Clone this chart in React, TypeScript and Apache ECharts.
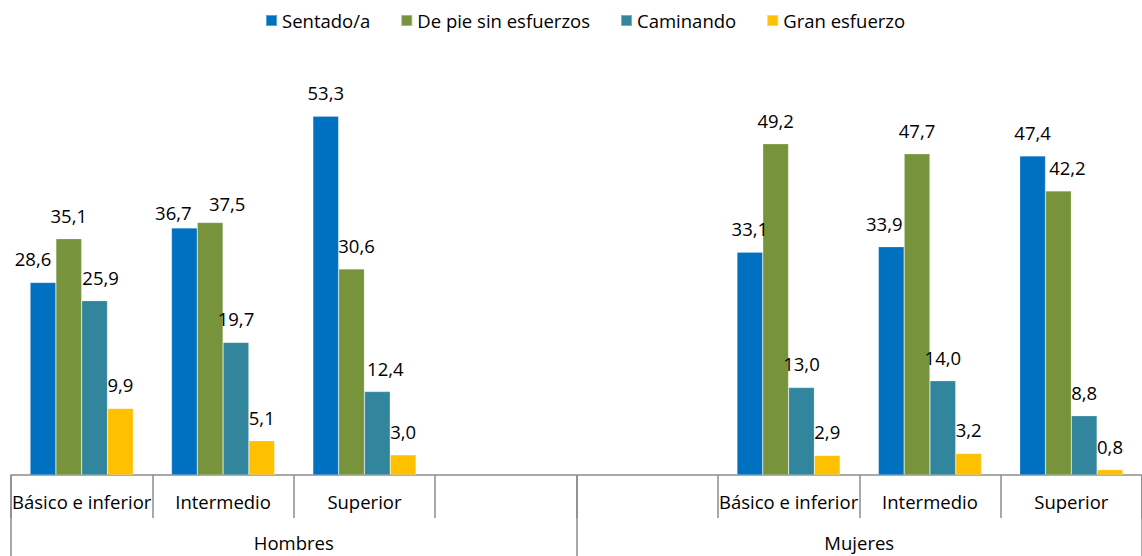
import React, { useEffect, useRef } from "react";
import * as echarts from "echarts";

const categories = ["Básico e inferior", "Intermedio", "Superior", "", "", "Básico e inferior", "Intermedio", "Superior"];
const groups = ["Hombres", "Mujeres"];
const seriesNames = ["Sentado/a", "De pie sin esfuerzos", "Caminando", "Gran esfuerzo"];
const sentado = [28.6, 36.7, 53.3, null, null, 33.1, 33.9, 47.4];
const dePie = [35.1, 37.5, 30.6, null, null, 49.2, 47.7, 42.2];
const caminando = [25.9, 19.7, 12.4, null, null, 13.0, 14.0, 8.8];
const granEsfuerzo = [9.9, 5.1, 3.0, null, null, 2.9, 3.2, 0.8];

const colors = ["#0070C0", "#77933C", "#31859C", "#FFC000"];

// label nudges (style only): [seriesIndex][categoryIndex] -> [dx, dy]
const labelNudges: Record<string, [number, number]> = {
  "0-0": [-10, 0],
  "2-0": [6, 0],
  "0-1": [-11, 8],
  "1-1": [17, 4],
  "1-2": [5, 0],
  "2-2": [8, 0],
  "0-6": [-7, 0],
  "1-7": [9, 0],
};

const FONT = "'Open Sans', sans-serif";

export default function App() {
  const ref = useRef<HTMLDivElement>(null);
  useEffect(() => {
    if (!ref.current) return;
    const chart = echarts.init(ref.current, null, { renderer: "svg" });
    const allData = [sentado, dePie, caminando, granEsfuerzo];
    const series = allData.map((arr, si) => ({
      name: seriesNames[si],
      type: "bar",
      xAxisIndex: 0,
      barGap: "0%",
      barCategoryGap: "27%",
      itemStyle: { color: colors[si], borderColor: "rgba(255,255,255,0.35)", borderWidth: 0.6 },
      label: {
        show: true,
        position: "top",
        distance: 14,
        color: "#000",
        fontFamily: FONT,
        fontSize: 18.5,
        formatter: (p: any) => (p.value == null ? "" : Number(p.value).toFixed(1).replace(".", ",")),
      },
      data: arr.map((v, ci) => {
        const n = labelNudges[`${si}-${ci}`];
        if (n && v != null) return { value: v, label: { offset: n } };
        return v;
      }),
    }));
    chart.setOption({
      animation: false,
      textStyle: { fontFamily: FONT },
      legend: {
        top: 6,
        left: 260,
        itemWidth: 11,
        itemHeight: 11,
        itemGap: 30,
        icon: "rect",
        textStyle: { fontFamily: FONT, fontSize: 18.5, color: "#000" },
        data: seriesNames,
      },
      grid: { left: 11, top: 71, width: 1136, height: 404, containLabel: false },
      xAxis: [
        {
          type: "category",
          data: categories,
          position: "bottom",
          axisLine: { lineStyle: { color: "#8c8c8c", width: 1.5 } },
          axisTick: { show: true, length: 43, lineStyle: { color: "#8c8c8c", width: 1.5 }, interval: 0 },
          axisLabel: { interval: 0, margin: 17, color: "#000", fontFamily: FONT, fontSize: 18.5 },
        },
        {
          type: "category",
          data: groups,
          position: "bottom",
          axisLine: { show: false },
          axisTick: { show: true, length: 81, lineStyle: { color: "#8c8c8c", width: 1.5 }, interval: 0 },
          axisLabel: { interval: 0, margin: 58, color: "#000", fontFamily: FONT, fontSize: 18.5 },
        },
      ],
      yAxis: {
        type: "value",
        min: 0,
        max: 60,
        show: false,
        splitLine: { show: false },
      },
      series,
    });
    return () => chart.dispose();
  }, []);
  return (
    <div
      ref={ref}
      style={{ position: "absolute", left: 0, top: 0, width: 1142, height: 556, background: "#fff" }}
    />
  );
}
